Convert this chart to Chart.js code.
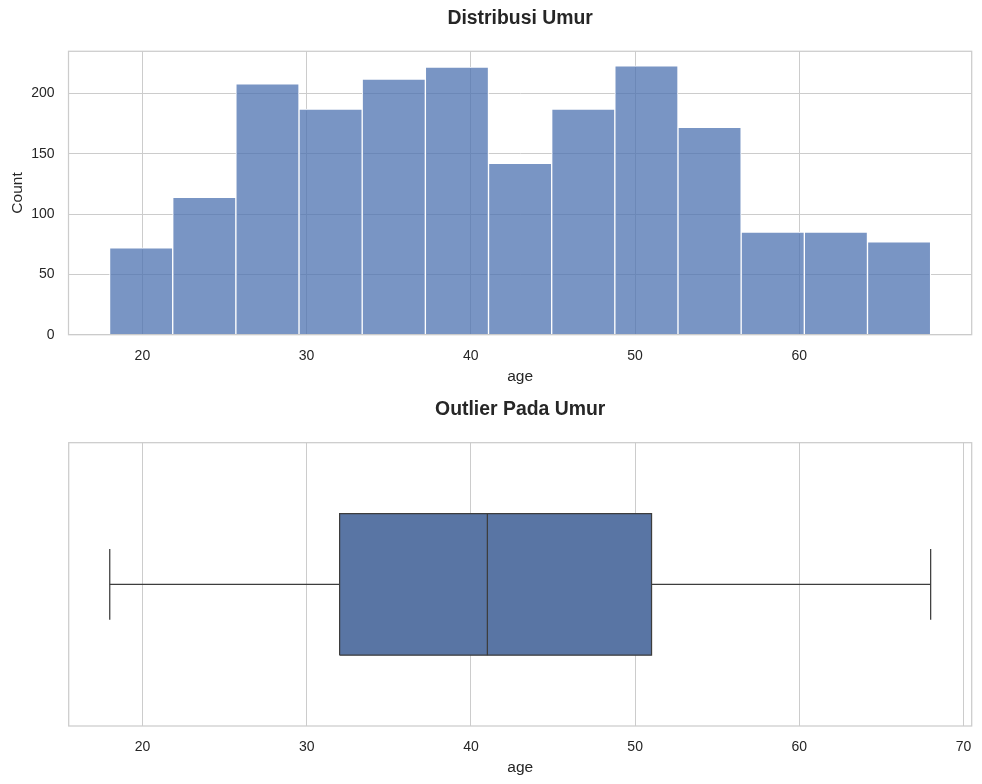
<!DOCTYPE html>
<html>
<head>
<meta charset="utf-8">
<script src="https://cdn.jsdelivr.net/npm/chart.js@4.4.1/dist/chart.umd.min.js"></script>
<style>
html,body{margin:0;padding:0;background:#ffffff;}
#wrap{position:relative;width:982px;height:784px;overflow:hidden;}
canvas{position:absolute;left:0;}
</style>
</head>
<body>
<div id="wrap">
<canvas id="c1" width="982" height="392" style="top:0px"></canvas>
<canvas id="c2" width="982" height="392" style="top:392px"></canvas>
</div>
<script>
// ---- data ----
const binEdges = [18, 21.846, 25.692, 29.538, 33.385, 37.231, 41.077, 44.923, 48.769, 52.615, 56.462, 60.308, 64.154, 68];
const counts = [72, 114, 208, 187, 212, 222, 142, 187, 223, 172, 85, 85, 77];
const histXTicks = [20, 30, 40, 50, 60];
const histYTicks = [0, 50, 100, 150, 200];
const boxStats = [18, 32, 41, 51, 68]; // lower whisker, Q1, median, Q3, upper whisker
const boxXTicks = [20, 30, 40, 50, 60, 70];

// ---- style ----
const FONT = "'Liberation Sans', Arial, Helvetica, sans-serif";
const TEXT = '#262626';
const GRID = '#cccccc';
Chart.defaults.font.family = FONT;
Chart.defaults.color = TEXT;
Chart.defaults.animation = false;

const frame = {
  id: 'frame',
  afterDatasetsDraw(chart) {
    const {ctx, chartArea: a} = chart;
    ctx.save();
    ctx.strokeStyle = GRID;
    ctx.lineWidth = 1.25;
    ctx.strokeRect(a.left, a.top, a.right - a.left, a.bottom - a.top);
    ctx.restore();
  }
};

// ---- histogram ----
const histData = counts.map((c, i) => ({x: (binEdges[i] + binEdges[i + 1]) / 2, y: c}));

new Chart(document.getElementById('c1'), {
  type: 'bar',
  data: {
    datasets: [{
      data: histData,
      backgroundColor: 'rgba(76,114,176,0.75)',
      borderColor: '#ffffff',
      borderWidth: 1,
      barPercentage: 1,
      categoryPercentage: 1
    }]
  },
  options: {
    responsive: false,
    devicePixelRatio: 1,
    layout: {padding: {left: 0, right: 10.3, top: 0, bottom: 0}},
    plugins: {
      legend: {display: false},
      tooltip: {enabled: false},
      title: {
        display: true,
        fullSize: false,
        text: 'Distribusi Umur',
        color: TEXT,
        font: {size: 19.4, weight: 'bold', family: FONT},
        padding: {top: 7.4, bottom: 20.6}
      }
    },
    scales: {
      x: {
        type: 'linear',
        min: 15.5,
        max: 70.5,
        offset: false,
        afterBuildTicks: s => { s.ticks = histXTicks.map(v => ({value: v})); },
        afterFit: s => { s.height = 57.3; },
        grid: {color: GRID, lineWidth: 1, drawTicks: false, offset: false},
        border: {display: false},
        ticks: {padding: 6, maxRotation: 0, autoSkip: false, font: {size: 14, lineHeight: 2.186}, color: TEXT},
        title: {display: true, text: 'age', font: {size: 15.5}, color: TEXT, padding: {top: 0, bottom: 5.9}}
      },
      y: {
        type: 'linear',
        min: 0,
        max: 235,
        afterBuildTicks: s => { s.ticks = histYTicks.map(v => ({value: v})); },
        afterFit: s => { s.width = 68.5; },
        grid: {color: GRID, lineWidth: 1, drawTicks: false},
        border: {display: false},
        ticks: {padding: 14, font: {size: 14}, color: TEXT},
        title: {display: true, text: 'Count', font: {size: 15.5}, color: TEXT, padding: {top: 8.7, bottom: 0}}
      }
    }
  },
  plugins: [frame]
});

// ---- box plot ----
const [wLo, q1, med, q3, wHi] = boxStats;
const HW = 0.5, CAP = 0.25;
const LINE = '#3d3d3d';
const lineDs = (pts) => ({data: pts, borderColor: LINE, borderWidth: 1.25, pointRadius: 0, fill: false, order: 0});

new Chart(document.getElementById('c2'), {
  type: 'line',
  data: {
    datasets: [
      {data: [{x: q1, y: HW}, {x: q3, y: HW}], borderWidth: 0, borderColor: 'rgba(0,0,0,0)', pointRadius: 0,
       fill: {value: -HW}, backgroundColor: '#5975a4', order: 10},
      lineDs([{x: q1, y: -HW}, {x: q3, y: -HW}, {x: q3, y: HW}, {x: q1, y: HW}, {x: q1, y: -HW}]),
      lineDs([{x: med, y: -HW}, {x: med, y: HW}]),
      lineDs([{x: wLo, y: 0}, {x: q1, y: 0}]),
      lineDs([{x: q3, y: 0}, {x: wHi, y: 0}]),
      lineDs([{x: wLo, y: -CAP}, {x: wLo, y: CAP}]),
      lineDs([{x: wHi, y: -CAP}, {x: wHi, y: CAP}])
    ]
  },
  options: {
    responsive: false,
    devicePixelRatio: 1,
    layout: {padding: {left: 0, right: 10.3, top: 0, bottom: 0}},
    plugins: {
      legend: {display: false},
      tooltip: {enabled: false},
      title: {
        display: true,
        fullSize: false,
        text: 'Outlier Pada Umur',
        color: TEXT,
        font: {size: 19.4, weight: 'bold', family: FONT},
        padding: {top: 6.2, bottom: 21.2}
      }
    },
    scales: {
      x: {
        type: 'linear',
        min: 15.5,
        max: 70.5,
        offset: false,
        afterBuildTicks: s => { s.ticks = boxXTicks.map(v => ({value: v})); },
        afterFit: s => { s.height = 58; },
        grid: {color: GRID, lineWidth: 1, drawTicks: false, offset: false},
        border: {display: false},
        ticks: {padding: 6, maxRotation: 0, autoSkip: false, font: {size: 14, lineHeight: 2.143}, color: TEXT},
        title: {display: true, text: 'age', font: {size: 15.5}, color: TEXT, padding: {top: 0, bottom: 6.9}}
      },
      y: {
        type: 'linear',
        min: -1,
        max: 1,
        afterFit: s => { s.width = 68.7; },
        grid: {display: false},
        border: {display: false},
        ticks: {display: false}
      }
    }
  },
  plugins: [frame]
});
</script>
</body>
</html>
